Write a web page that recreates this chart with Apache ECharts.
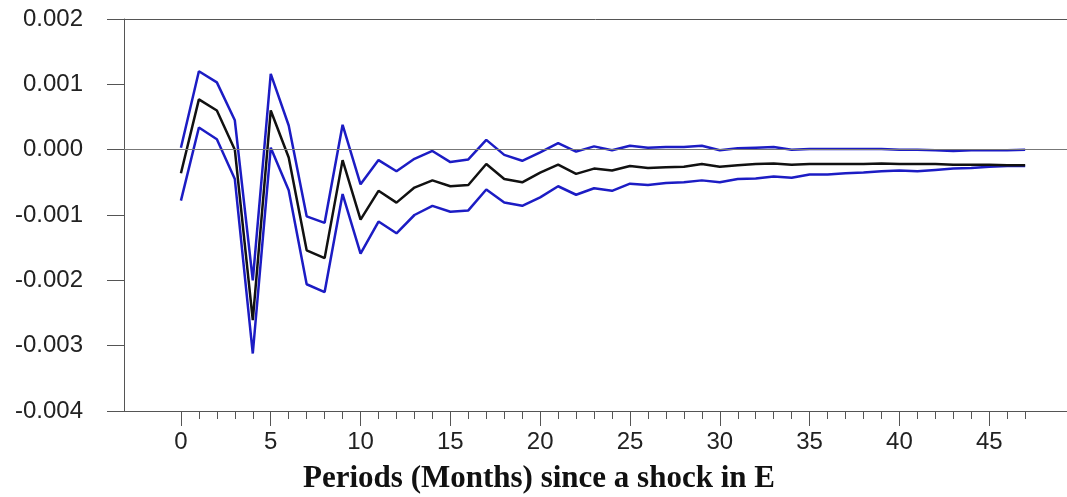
<!DOCTYPE html>
<html>
<head>
<meta charset="utf-8">
<script src="https://cdn.jsdelivr.net/npm/echarts@6/dist/echarts.min.js"></script>
<style>
    html, body { margin: 0; padding: 0; background: #fff; }
    #irf { width: 1067px; height: 497px; }
</style>
</head>
<body>
<div id="irf"></div>
<script>
    // 月份 0..47
    const periods = Array.from({length: 48}, (_, i) => i)
    const labelTicks = [0, 5, 10, 15, 20, 25, 30, 35, 40, 45]
    const yTicks = [-0.004, -0.003, -0.002, -0.001, 0, 0.001, 0.002]

    // 脉冲响应 + 上下置信带
    const response = [
        -0.00036, 0.00077, 0.00060, 0.00000, -0.00261, 0.00060, -0.00012, -0.00154, -0.00166, -0.00016,
        -0.00107, -0.00063, -0.00081, -0.00058, -0.00047, -0.00056, -0.00054, -0.00022, -0.00045, -0.00050,
        -0.00035, -0.00023, -0.00037, -0.00029, -0.00032, -0.00025, -0.00028, -0.00027, -0.00026, -0.00022,
        -0.00026, -0.00024, -0.00022, -0.00021, -0.00023, -0.00022, -0.00022, -0.00022, -0.00022, -0.00021,
        -0.00022, -0.00022, -0.00022, -0.00023, -0.00023, -0.00023, -0.00024, -0.00024
    ]
    const upper = [
        0.00003, 0.00120, 0.00103, 0.00045, -0.00200, 0.00116, 0.00037, -0.00102, -0.00112, 0.00038,
        -0.00053, -0.00016, -0.00033, -0.00014, -0.00002, -0.00019, -0.00015, 0.00015, -0.00008, -0.00017,
        -0.00004, 0.00010, -0.00003, 0.00005, -0.00001, 0.00006, 0.00003, 0.00004, 0.00004, 0.00006,
        -0.00001, 0.00002, 0.00003, 0.00004, 0.00000, 0.00001, 0.00001, 0.00001, 0.00001, 0.00001,
        0.00000, 0.00000, -0.00001, -0.00002, -0.00001, -0.00001, -0.00001, 0.00000
    ]
    const lower = [
        -0.00078, 0.00034, 0.00016, -0.00045, -0.00312, 0.00003, -0.00062, -0.00206, -0.00218, -0.00068,
        -0.00159, -0.00110, -0.00128, -0.00100, -0.00086, -0.00095, -0.00093, -0.00061, -0.00081, -0.00086,
        -0.00073, -0.00056, -0.00069, -0.00059, -0.00063, -0.00052, -0.00054, -0.00051, -0.00050, -0.00047,
        -0.00050, -0.00045, -0.00044, -0.00041, -0.00043, -0.00038, -0.00038, -0.00036, -0.00035, -0.00033,
        -0.00032, -0.00033, -0.00031, -0.00029, -0.00028, -0.00026, -0.00025, -0.00025
    ]

    const pairs = arr => arr.map((v, i) => [periods[i], v])
    const axisColor = '#555'
    const labelFont = {fontFamily: '"Liberation Sans", Arial, sans-serif', fontSize: 24, color: '#222'}

    const option = {
        animation: false,
        grid: {left: 124, right: 0, top: 19, bottom: 86},
        xAxis: [
            {
                type: 'value', min: -3.17, max: 49.33, position: 'bottom',
                splitLine: {show: false},
                axisLine: {onZero: false, lineStyle: {color: axisColor, width: 1}},
                axisTick: {customValues: labelTicks, length: 15, lineStyle: {color: axisColor}},
                axisLabel: Object.assign({customValues: labelTicks, margin: 19}, labelFont)
            },
            {
                type: 'value', min: -3.17, max: 49.33, position: 'bottom',
                splitLine: {show: false},
                axisLine: {show: false, onZero: false},
                axisTick: {customValues: periods, length: 8, lineStyle: {color: axisColor}},
                axisLabel: {show: false}
            },
            {
                type: 'value', min: -3.17, max: 49.33, position: 'top',
                splitLine: {show: false},
                axisLine: {onZero: false, lineStyle: {color: axisColor, width: 1}},
                axisTick: {show: false},
                axisLabel: {show: false}
            }
        ],
        yAxis: {
            type: 'value', min: -0.004, max: 0.002, interval: 0.001, position: 'left',
            splitLine: {show: false},
            axisLine: {show: true, onZero: false, lineStyle: {color: axisColor, width: 1}},
            axisTick: {show: true, length: 17, lineStyle: {color: axisColor}},
            axisLabel: Object.assign({
                margin: 41,
                formatter: v => (Math.abs(v) < 1e-9 ? 0 : v).toFixed(3)
            }, labelFont)
        },
        graphic: [{
            type: 'text', x: 539, y: 479,
            style: {
                text: 'Periods (Months) since a shock in E',
                font: 'bold 31px "Liberation Serif", "Times New Roman", serif',
                fill: '#111', align: 'center', verticalAlign: 'middle'
            }
        }],
        series: [
            {
                name: 'upper', type: 'line', data: pairs(upper), symbol: 'none',
                lineStyle: {color: '#1c1cc4', width: 2.5}, z: 3
            },
            {
                name: 'lower', type: 'line', data: pairs(lower), symbol: 'none',
                lineStyle: {color: '#1c1cc4', width: 2.5}, z: 3
            },
            {
                name: 'response', type: 'line', data: pairs(response), symbol: 'none',
                lineStyle: {color: '#111', width: 2.5}, z: 4,
                markLine: {
                    silent: true, symbol: 'none', label: {show: false},
                    lineStyle: {color: '#777', type: 'solid', width: 1},
                    data: [{yAxis: 0}]
                }
            }
        ]
    }

    const irfChart = echarts.init(document.getElementById('irf'))
    irfChart.setOption(option)
    window.addEventListener('resize', () => irfChart.resize())
</script>
</body>
</html>
